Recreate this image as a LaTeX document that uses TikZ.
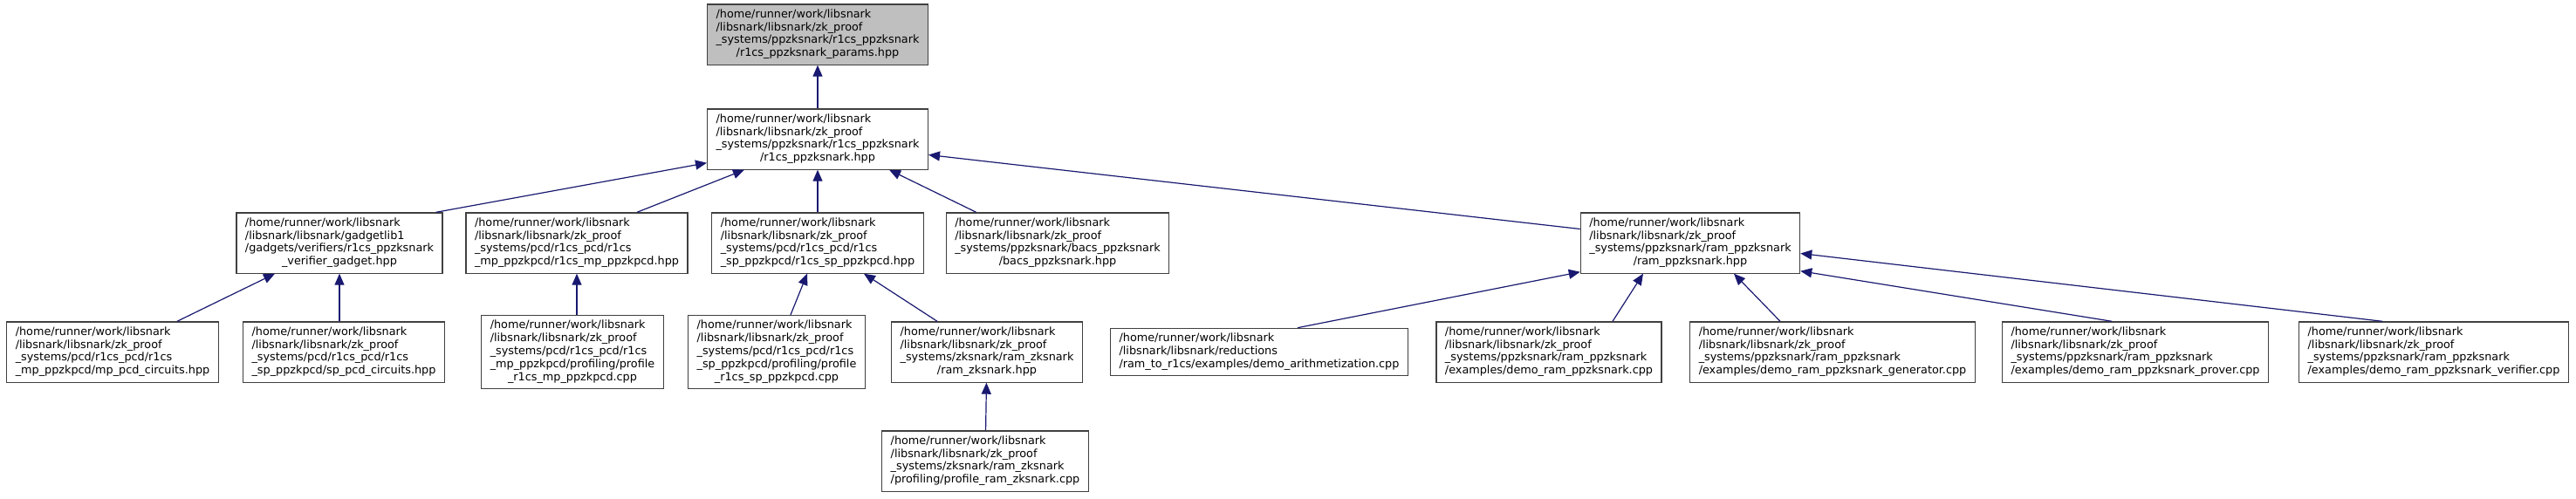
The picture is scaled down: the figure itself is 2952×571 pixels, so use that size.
\documentclass[tikz,border=0pt]{standalone}
\usepackage{fontspec}
\setmainfont{DejaVu Sans}
\usetikzlibrary{arrows.meta}
\definecolor{edgeblue}{HTML}{191970}
\definecolor{boxline}{HTML}{404040}
\definecolor{rootfill}{HTML}{BFBFBF}
\newcommand{\fpath}[2]{\begin{tabular}{@{}l@{}}#1\\\multicolumn{1}{@{}c@{}}{#2}\end{tabular}}
\newcommand{\hdir}{/home/runner/work/libsnark}
\newcommand{\zkdir}{/libsnark/libsnark/zk\_proof}
\begin{document}
\begin{tikzpicture}[x=1pt,y=-1pt,
  fbox/.style={draw=boxline,line width=1.2pt,fill=white,inner xsep=10pt,inner ysep=5pt,
    font=\fontsize{12.8}{14.8}\selectfont},
  rootbox/.style={fbox,fill=rootfill},
  dep/.style={{Triangle[length=13pt,width=11pt]}-,draw=edgeblue,line width=1.2pt}]
\path[use as bounding box] (0,0) rectangle (2952,571);
\node[rootbox] (params) at (937,39.5) {\fpath{\hdir\\\zkdir\\\_systems/ppzksnark/r1cs\_ppzksnark}{/r1cs\_ppzksnark\_params.hpp}};
\node[fbox] (r1cs) at (937,159.5) {\fpath{\hdir\\\zkdir\\\_systems/ppzksnark/r1cs\_ppzksnark}{/r1cs\_ppzksnark.hpp}};
\node[fbox] (gadget) at (389,278.5) {\fpath{\hdir\\/libsnark/libsnark/gadgetlib1\\/gadgets/verifiers/r1cs\_ppzksnark}{\_verifier\_gadget.hpp}};
\node[fbox] (mphpp) at (661,278.5) {\fpath{\hdir\\\zkdir\\\_systems/pcd/r1cs\_pcd/r1cs}{\_mp\_ppzkpcd/r1cs\_mp\_ppzkpcd.hpp}};
\node[fbox] (sphpp) at (937,278.5) {\fpath{\hdir\\\zkdir\\\_systems/pcd/r1cs\_pcd/r1cs}{\_sp\_ppzkpcd/r1cs\_sp\_ppzkpcd.hpp}};
\node[fbox] (bacs) at (1212,278.5) {\fpath{\hdir\\\zkdir\\\_systems/ppzksnark/bacs\_ppzksnark}{/bacs\_ppzksnark.hpp}};
\node[fbox] (ramsnark) at (1937,278.5) {\fpath{\hdir\\\zkdir\\\_systems/ppzksnark/ram\_ppzksnark}{/ram\_ppzksnark.hpp}};
\node[fbox] (mpcirc) at (129,403.5) {\fpath{\hdir\\\zkdir\\\_systems/pcd/r1cs\_pcd/r1cs}{\_mp\_ppzkpcd/mp\_pcd\_circuits.hpp}};
\node[fbox] (spcirc) at (394,403.5) {\fpath{\hdir\\\zkdir\\\_systems/pcd/r1cs\_pcd/r1cs}{\_sp\_ppzkpcd/sp\_pcd\_circuits.hpp}};
\node[fbox] (profmp) at (656,403.5) {\fpath{\hdir\\\zkdir\\\_systems/pcd/r1cs\_pcd/r1cs\\\_mp\_ppzkpcd/profiling/profile}{\_r1cs\_mp\_ppzkpcd.cpp}};
\node[fbox] (profsp) at (890,403.5) {\fpath{\hdir\\\zkdir\\\_systems/pcd/r1cs\_pcd/r1cs\\\_sp\_ppzkpcd/profiling/profile}{\_r1cs\_sp\_ppzkpcd.cpp}};
\node[fbox] (ramzk) at (1131,403.5) {\fpath{\hdir\\\zkdir\\\_systems/zksnark/ram\_zksnark}{/ram\_zksnark.hpp}};
\node[fbox] (arith) at (1443,403.5) {\fpath{\hdir\\/libsnark/libsnark/reductions}{/ram\_to\_r1cs/examples/demo\_arithmetization.cpp}};
\node[fbox] (demoram) at (1775,403.5) {\fpath{\hdir\\\zkdir\\\_systems/ppzksnark/ram\_ppzksnark}{/examples/demo\_ram\_ppzksnark.cpp}};
\node[fbox] (demogen) at (2100,403.5) {\fpath{\hdir\\\zkdir\\\_systems/ppzksnark/ram\_ppzksnark}{/examples/demo\_ram\_ppzksnark\_generator.cpp}};
\node[fbox] (demoprov) at (2447,403.5) {\fpath{\hdir\\\zkdir\\\_systems/ppzksnark/ram\_ppzksnark}{/examples/demo\_ram\_ppzksnark\_prover.cpp}};
\node[fbox] (demover) at (2789,403.5) {\fpath{\hdir\\\zkdir\\\_systems/ppzksnark/ram\_ppzksnark}{/examples/demo\_ram\_ppzksnark\_verifier.cpp}};
\node[fbox] (profram) at (1129,528.5) {\fpath{\hdir\\\zkdir\\\_systems/zksnark/ram\_zksnark}{/profiling/profile\_ram\_zksnark.cpp}};
\draw[dep] (params) -- (r1cs);
\draw[dep] ([yshift=8pt]r1cs.south west) -- ([xshift=-8pt]gadget.north east);
\draw[dep] ([xshift=43pt]r1cs.south west) -- ([xshift=69pt]mphpp.north);
\draw[dep] (r1cs) -- (sphpp);
\draw[dep] ([xshift=-45pt]r1cs.south east) -- ([xshift=35pt]bacs.north west);
\draw[dep] ([yshift=-18pt]r1cs.east) -- ([yshift=16pt]ramsnark.west);
\draw[dep] ([xshift=-74pt]gadget.south) -- ([xshift=74pt]mpcirc.north);
\draw[dep] (gadget.south) -- (gadget.south |- spcirc.north);
\draw[dep] (mphpp.south) -- (mphpp.south |- profmp.north);
\draw[dep] ([xshift=-12pt]sphpp.south) -- ([xshift=16pt]profsp.north);
\draw[dep] ([xshift=53pt]sphpp.south) -- ([xshift=-57pt]ramzk.north);
\draw[dep] ([yshift=2pt]ramsnark.south west) -- ([xshift=44pt]arith.north);
\draw[dep] ([xshift=-54pt]ramsnark.south) -- ([xshift=73pt]demoram.north);
\draw[dep] ([xshift=50pt]ramsnark.south) -- ([xshift=-60pt]demogen.north);
\draw[dep] ([yshift=3pt]ramsnark.south east) -- ([xshift=-27pt]demoprov.north);
\draw[dep] ([yshift=-12pt]ramsnark.east) -- ([xshift=-59pt]demover.north);
\draw[dep] (ramzk) -- (profram);
\end{tikzpicture}
\end{document}
